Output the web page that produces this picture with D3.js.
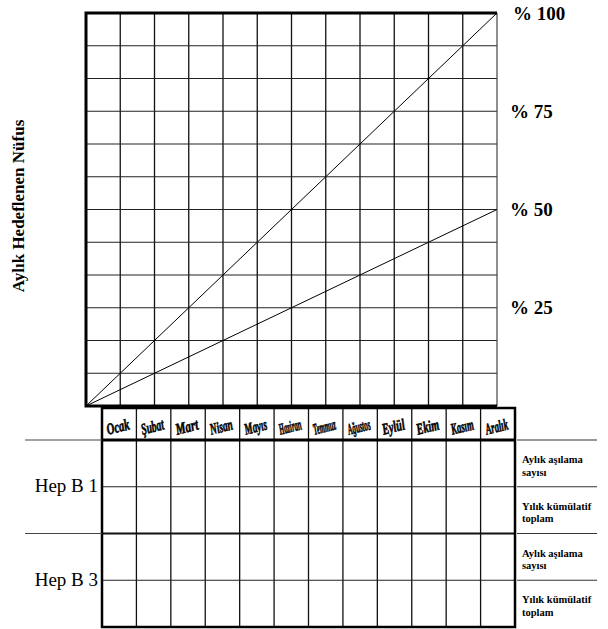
<!DOCTYPE html>
<html><head><meta charset="utf-8">
<script src="https://cdn.jsdelivr.net/npm/d3@7"></script>
<style>body{margin:0;background:#fff}svg{display:block}</style>
</head><body>
<script>
const months = ["Ocak","Şubat","Mart","Nisan","Mayıs","Haziran","Temmuz","Ağustos","Eylül","Ekim","Kasım","Aralık"];
const percentTicks = [25, 50, 75, 100];
const targetLines = [100, 50];          // % reached at end of year
const vaccines = ["Hep B 1", "Hep B 3"];
const rowLabels = [["Aylık aşılama","sayısı"],["Yılık kümülatif","toplam"]];
const yTitle = "Aylık Hedeflenen Nüfus";

const W = 608, H = 629;
const svg = d3.select("body").append("svg").attr("width", W).attr("height", H);

// upper chart scales
const x = d3.scaleLinear().domain([0, 12]).range([86, 497]);
const y = d3.scaleLinear().domain([0, 100]).range([406, 13]);

const g = svg.append("g");
// grid
d3.range(1, 12).forEach(i => {
  g.append("line").attr("x1", x(i)).attr("x2", x(i)).attr("y1", y(0)).attr("y2", y(100))
    .attr("stroke", "#111").attr("stroke-width", 1.3);
  g.append("line").attr("x1", x(0)).attr("x2", x(12)).attr("y1", y(i*100/12)).attr("y2", y(i*100/12))
    .attr("stroke", "#222").attr("stroke-width", 1.2);
});
// border
g.append("line").attr("x1", x(12)).attr("x2", x(12)).attr("y1", y(0)).attr("y2", y(100)).attr("stroke", "#444").attr("stroke-width", 1.2);
g.append("path").attr("d", `M${x(12)},${y(100)}H${x(0)}V${y(0)}H${x(12)}`)
  .attr("fill", "none").attr("stroke", "#000").attr("stroke-width", 3);

// target lines
const line = d3.line().x(d => x(d[0])).y(d => y(d[1]));
targetLines.forEach(t => {
  g.append("path").attr("d", line([[0, 0], [12, t]])).attr("fill", "none")
    .attr("stroke", "#000").attr("stroke-width", 1);
});

// right percent labels
percentTicks.forEach(p => {
  svg.append("text").attr("x", p === 100 ? 513 : 510).attr("y", y(p)).attr("dy", "0.35em")
    .attr("font-family", "Liberation Serif, serif").attr("font-weight", "bold")
    .attr("font-size", 19).text("% " + p);
});

// y title
svg.append("text").attr("transform", `translate(24,206) rotate(-90)`)
  .attr("text-anchor", "middle").attr("font-family", "Liberation Serif, serif")
  .attr("font-weight", "bold").attr("font-size", 17).text(yTitle);

// lower table
const xb = d3.scaleBand().domain(months).range([102, 515]);
const rowsY = d3.scaleLinear().domain([0, 4]).range([440, 627]);
const topY = 408;
const t = svg.append("g");
// month header verticals + table verticals
months.forEach((m, i) => {
  if (i > 0) {
    t.append("line").attr("x1", xb(m)).attr("x2", xb(m)).attr("y1", topY).attr("y2", rowsY(4))
      .attr("stroke", "#111").attr("stroke-width", 1.3);
  }
  const cx = xb(m) + xb.bandwidth() / 2;
  const tg = t.append("g");
  const txt = tg.append("text")
    .attr("text-anchor", "middle").attr("font-family", "Liberation Serif, serif")
    .attr("font-weight", "bold").attr("font-style", "italic")
    .attr("stroke", "#000").attr("stroke-width", 0.6)
    .attr("font-size", 16).text(m);
  const w = txt.node().getComputedTextLength();
  const sx = Math.min(1, 23 / w);
  tg.attr("transform", `translate(${cx},${432}) rotate(-14) scale(${sx},1)`);
});
// horizontal row lines
[1, 3].forEach(r => {
  t.append("line").attr("x1", xb.range()[0]).attr("x2", xb.range()[1]).attr("y1", rowsY(r)).attr("y2", rowsY(r))
    .attr("stroke", "#222").attr("stroke-width", 1.2);
});
t.append("line").attr("x1", xb.range()[0]).attr("x2", xb.range()[1]).attr("y1", rowsY(2)).attr("y2", rowsY(2))
  .attr("stroke", "#111").attr("stroke-width", 2);
t.append("line").attr("x1", xb.range()[0]).attr("x2", xb.range()[1]).attr("y1", rowsY(0)).attr("y2", rowsY(0))
  .attr("stroke", "#000").attr("stroke-width", 3);
t.append("rect").attr("x", xb.range()[0]).attr("y", topY).attr("width", xb.range()[1] - xb.range()[0])
  .attr("height", rowsY(4) - topY).attr("fill", "none").attr("stroke", "#000").attr("stroke-width", 2.5);

// left group lines and labels
vaccines.forEach((v, i) => {
  t.append("line").attr("x1", 25).attr("x2", xb.range()[0]).attr("y1", rowsY(i*2)).attr("y2", rowsY(i*2))
    .attr("stroke", "#444").attr("stroke-width", 1.2);
  t.append("text").attr("x", 98).attr("y", rowsY(i*2 + 1)).attr("dy", "0.3em")
    .attr("text-anchor", "end").attr("font-family", "Liberation Serif, serif")
    .attr("font-size", 19).text(v);
  rowLabels.forEach((lab, j) => {
    const r = i*2 + j;
    t.append("line").attr("x1", xb.range()[1] + 2).attr("x2", 597).attr("y1", rowsY(r)).attr("y2", rowsY(r))
      .attr("stroke", "#333").attr("stroke-width", 1.2);
    lab.forEach((s, k) => {
      t.append("text").attr("x", 522).attr("y", rowsY(r) + 23 + k*12.5)
        .attr("font-family", "Liberation Serif, serif").attr("font-weight", "bold")
        .attr("font-size", 10.5).text(s);
    });
  });
});
</script>
</body></html>
